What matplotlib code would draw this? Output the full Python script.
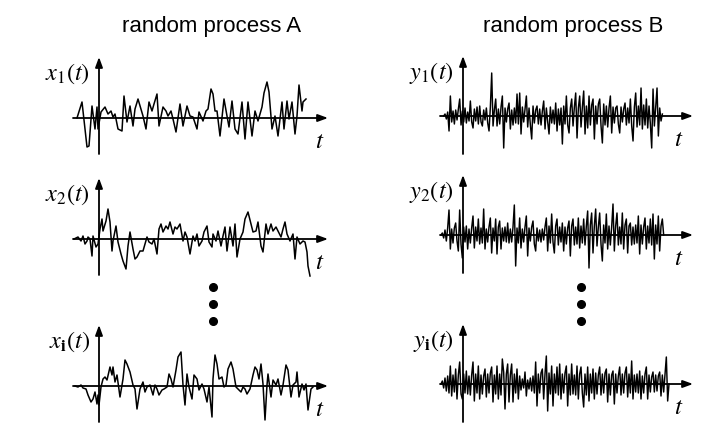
import matplotlib.pyplot as plt
from matplotlib.lines import Line2D
import numpy as np

plt.rcParams['mathtext.fontset'] = 'stix'
plt.rcParams['font.family'] = 'Liberation Sans'

W, H = 712, 439

# random process A: hand-read vertices, t and value in px from the panel origin
t_x1 = [-22, -17, -12, -10, -7, -4, -2, -1, 2, 6, 9, 12, 14, 16, 19, 23, 25, 28, 31, 34,
        36, 39, 44, 47, 50, 53, 55, 58, 60, 64, 67, 69, 72, 74, 77, 81, 84, 88, 91, 94,
        98, 100, 104, 107, 109, 112, 114, 116, 118, 121, 125, 128, 130, 133, 136, 139, 143, 146, 149, 153,
        156, 159, 163, 165, 168, 170, 173, 176, 179, 183, 185, 188, 190, 193, 196, 198, 200, 203, 204, 207]
x1 = [0, 16, -29, -28, 12, -11, 11, -11, 6, 11, 4, 7, 1, 4, -11, -13, 22, -4, 12, -8,
      9, 19, 2, -11, 16, 7, 14, 24, -8, 11, 7, 2, 7, -1, -14, 14, -8, 12, 2, 1,
      -11, 6, -3, 7, 9, 29, 24, 7, 7, -18, 19, 2, -9, 17, -11, -16, 16, -21, 16, -18,
      7, -3, 11, 25, 36, 26, -11, 2, -18, 16, -11, 17, -1, 16, -16, 2, 33, 7, 16, 19]

t_x2 = [-25, -21, -18, -16, -14, -12, -11, -9, -7, -6, -3, -1, 1, 3, 4, 7, 9, 11, 13, 14,
        17, 19, 22, 24, 27, 29, 31, 34, 36, 38, 41, 44, 46, 48, 50, 53, 55, 58, 60, 62,
        64, 67, 69, 71, 74, 76, 78, 81, 84, 86, 88, 91, 94, 96, 98, 100, 103, 105, 108, 110,
        113, 114, 117, 119, 122, 124, 126, 128, 131, 134, 136, 138, 141, 144, 146, 149, 152, 154, 157, 159,
        162, 164, 167, 169, 172, 174, 177, 179, 182, 184, 186, 188, 191, 194, 196, 198, 201, 204, 206, 208,
        209, 211]
x2 = [0, 2, -2, 3, -5, -2, 2, 0, -17, 3, -8, -5, 10, 20, 8, 18, 30, 17, -12, -2,
      13, -3, -15, -22, -30, -7, 7, -10, -20, -18, -12, -12, -5, 2, -3, -5, 0, -15, 10, 15,
      7, 13, 10, 17, 5, 12, 10, 15, -2, 7, 2, -15, 3, -2, 5, -7, -2, 7, 13, -3,
      -8, 5, -2, 8, -7, 3, 12, -12, 12, -7, 15, -18, 0, 7, 20, 27, 15, 7, 8, 17,
      -7, -13, 15, 5, 15, 8, 12, 8, 2, 10, 17, 5, -2, 5, -20, 2, -5, -2, -3, -13,
      -27, -37]

t_x3 = [-24, -21, -18, -16, -13, -11, -8, -6, -4, -2, -1, 0, 2, 4, 6, 8, 11, 13, 14, 16,
        18, 21, 24, 26, 28, 31, 34, 36, 38, 41, 44, 46, 48, 51, 54, 56, 58, 60, 63, 65,
        68, 70, 72, 74, 77, 79, 82, 84, 86, 88, 90, 93, 95, 98, 100, 103, 105, 108, 110, 113,
        114, 116, 118, 120, 123, 125, 127, 129, 132, 134, 137, 139, 142, 144, 146, 148, 151, 154, 156, 158,
        160, 162, 164, 166, 168, 169, 172, 174, 177, 179, 182, 184, 187, 189, 192, 194, 197, 198, 200, 203,
        205, 207, 209, 212, 214]
x3 = [0, -1, 1, -2, -3, -9, -16, -13, -6, -18, -9, -19, -1, 7, 9, 6, 19, 11, 19, 4,
      11, -11, 7, 26, 22, 14, 1, -3, -23, -3, 4, -6, -1, 1, -9, 1, -3, -9, -4, -3,
      -1, 12, 7, -1, 16, 29, 34, 1, -19, 12, -1, -13, 11, 7, -4, 2, -3, -16, -1, -31,
      7, 31, 22, 7, 9, -1, 1, 17, 24, 17, -1, -3, -6, -1, -3, -8, -3, 11, 19, 16,
      7, 22, 2, -34, 1, 12, -11, 6, 1, 7, -9, 1, 21, 16, -11, 1, 4, 14, -11, 2,
      -4, 2, -24, -3, -1]

# random process B: evenly sampled, values in px
y1 = [0, 2, -3, 4, -15, 20, -6, 5, -8, 6,
      -4, 7, 17, -9, 5, -6, 8, -7, 4, -5,
      15, -6, -12, 7, -5, 9, -8, 10, -6, -10,
      6, -4, 8, -7, -15, 9, 43, -10, 6, 17,
      -10, 7, -8, 9, 20, -32, 8, -6, 7, 13,
      -13, 6, -9, 8, -7, 22, -8, 23, -18, 9,
      -6, 7, 20, -11, 8, -9, -23, 10, -7, 6,
      10, -8, 7, -9, 5, 15, -13, 8, -6, -18,
      9, -7, 6, -8, 13, -15, 7, -9, 8, -28,
      10, -8, 20, -9, -17, 8, 17, -10, 9, 23,
      -22, 8, 20, -11, 9, 25, -18, 10, -12, 20,
      -9, 11, 17, -23, 10, -8, 12, 17, -10, -27,
      12, -9, 10, -11, 8, 20, -17, 9, -7, 8,
      10, -8, -17, 9, -6, 7, 13, -9, 8, -7,
      17, -10, -25, 9, 23, -11, 10, -9, 28, -13,
      11, -9, 17, -12, 10, -8, -32, 27, -10, 9,
      28, -20, 8, -5, 2]
y2 = [0, 2, -3, 5, -6, 7, 25, -14, 6, -8,
      7, 12, -6, -16, 25, -9, -23, 8, -7, 9,
      -14, 6, -8, 7, 19, -13, 8, -6, 16, -9,
      7, -8, 26, -14, 6, -7, 8, 17, -18, 7,
      -6, 16, -19, 8, 14, -14, 7, -6, 8, -7,
      12, -8, 6, -7, 8, 30, -31, 7, -8, 17,
      -13, 6, -7, 8, 19, -21, 7, -6, 8, 14,
      -9, -16, 7, -6, 5, -7, 6, -5, 8, 17,
      -16, 9, -8, 21, -7, -18, 9, 16, -10, 8,
      -7, 12, -16, 8, -9, 7, 14, -21, 9, 16,
      -10, 8, -9, 17, -13, 9, -8, 16, -10, 9,
      24, -33, 10, 22, -18, 9, 26, -11, 8, 22,
      -9, -26, 10, -8, 21, -14, 9, -10, 8, 31,
      -16, 9, 22, -10, 8, -9, 22, -14, 10, 16,
      -18, 9, 12, -10, 8, -9, 10, -8, 19, -19,
      10, -9, 8, 17, -14, 9, -8, 16, -10, 21,
      -24, 10, -9, 19, -16, 9, 16, 0]
y3 = [0, 3, -4, 6, -7, 8, -9, 18, -12, 9,
      -8, 15, -15, 9, 22, -10, -15, 10, -9, 13,
      -10, 8, -11, 9, 22, -17, 10, -9, 18, -15,
      9, -10, 8, 15, -13, 10, -9, 11, 17, -18,
      9, -10, 18, -15, 10, -11, 25, 12, -25, 10,
      20, -18, 9, 20, -18, 10, -9, 15, -15, 8,
      -6, 5, -4, 12, -12, 4, -5, 6, -7, 8,
      -9, 22, -22, 10, -9, 11, 15, -15, 10, 28,
      -27, 11, -10, 18, -22, 10, -9, 17, -11, 20,
      -15, 10, -9, 11, 18, -22, 10, -11, 20, -10,
      9, -11, 18, -15, 10, 17, -9, -23, 10, -11,
      17, -17, 10, -9, 15, -15, 11, -10, 9, 17,
      -11, 10, -9, 11, 15, -18, 10, -11, 9, 13,
      -20, 10, -9, 8, 17, -11, 10, -9, 11, 17,
      -13, 10, -9, 23, -15, 9, -8, 10, -9, 13,
      -15, 8, -9, 10, 17, -15, 9, -8, 7, 12,
      -8, 9, -7, 8, 12, -12, 9, -8, 10, 27,
      -17, 0]
b_start = [-19.3, -22.0, -22.0]
b_step = 4 / 3

fig = plt.figure(figsize=(W / 100, H / 100), dpi=100)


def panel(ox, oy):
    # axes in px units, origin at (ox, oy) in image pixels
    ax = fig.add_axes([(ox - 55) / W, 1 - (oy + 48) / H, 300 / W, 125 / H])
    ax.set_xlim(-55, 245)
    ax.set_ylim(-48, 77)
    ax.axis('off')
    return ax


def axes_arrows(ax, x0, x1_, y0, y1_):
    style = dict(arrowstyle='-|>,head_length=0.6,head_width=0.22', color='k',
                 lw=1.3, shrinkA=0, shrinkB=0)
    ax.annotate('', xy=(x1_, 0), xytext=(x0, 0), arrowprops=style)
    ax.annotate('', xy=(0, y1_), xytext=(0, y0), arrowprops=style)


a_labels = [r'$x_1(t)$', r'$x_2(t)$', r'$x_{\mathbf{i}}(t)$']
b_labels = [r'$y_1(t)$', r'$y_2(t)$', r'$y_{\mathbf{i}}(t)$']
a_origins = [(99, 119), (99, 240), (99, 387)]
b_origins = [(463, 117), (463, 236), (463, 385)]

for (ox, oy), t, v, lab in zip(a_origins, [t_x1, t_x2, t_x3], [x1, x2, x3], a_labels):
    ax = panel(ox, oy)
    axes_arrows(ax, -26, 229, -36, 61)
    ax.plot(t, v, color='k', lw=1.1, clip_on=False)
    ax.text(-9, 39, lab, ha='right', va='baseline', fontsize=17.5)
    ax.text(221, -22, r'$t$', ha='center', va='center', fontsize=18)

for (ox, oy), v, t0, lab in zip(b_origins, [y1, y2, y3], b_start, b_labels):
    ax = panel(ox, oy)
    axes_arrows(ax, -23, 230, -38, 60)
    t = t0 + b_step * np.arange(len(v))
    ax.plot(t, v, color='k', lw=1.05, clip_on=False)
    ax.text(-9, 38, lab, ha='right', va='baseline', fontsize=17.5)
    ax.text(216, -22, r'$t$', ha='center', va='center', fontsize=18)

fig.text(212 / W, 1 - 32 / H, 'random process A', ha='center', va='baseline', fontsize=16)
fig.text(573 / W, 1 - 32 / H, 'random process B', ha='center', va='baseline', fontsize=16)

for xd in (213, 581):
    fig.add_artist(Line2D([xd / W] * 3, [1 - 288 / H, 1 - 305 / H, 1 - 322 / H],
                          ls='none', marker='o', ms=5.5, color='k',
                          transform=fig.transFigure))

fig.savefig('out.png', dpi=100)
